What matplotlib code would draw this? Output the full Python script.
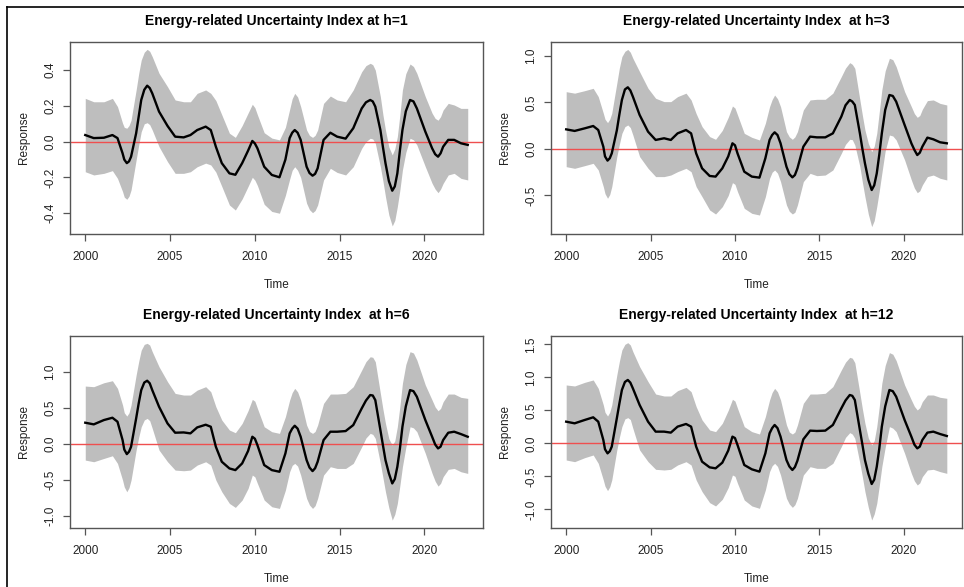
import matplotlib
matplotlib.use("Agg")
import matplotlib.pyplot as plt
from matplotlib.lines import Line2D

plt.rcParams['font.family'] = ['Liberation Sans', 'DejaVu Sans']

# time points (years)
t = [2000.0, 2000.5, 2001.1, 2001.6, 2001.9, 2002.2, 2002.3, 2002.45, 2002.58, 2002.7,
     2003.0, 2003.15, 2003.3, 2003.48, 2003.65, 2003.8, 2003.95, 2004.35, 2004.85, 2005.3,
     2005.8, 2006.2, 2006.6, 2007.1, 2007.4, 2007.7, 2008.05, 2008.5, 2008.85, 2009.25,
     2009.6, 2009.85, 2010.0, 2010.15, 2010.55, 2011.0, 2011.45, 2011.8, 2012.05, 2012.2,
     2012.35, 2012.52, 2012.7, 2013.05, 2013.22, 2013.4, 2013.55, 2013.7, 2014.05, 2014.45,
     2014.85, 2015.35, 2015.8, 2016.3, 2016.55, 2016.8, 2016.95, 2017.1, 2017.4, 2017.55,
     2017.7, 2017.9, 2018.1, 2018.25, 2018.4, 2018.55, 2018.7, 2018.9, 2019.15, 2019.35,
     2019.55, 2020.05, 2020.45, 2020.63, 2020.8, 2020.95, 2021.1, 2021.4, 2021.75, 2022.15,
     2022.55]

# h=1
resp1 = [0.037, 0.02, 0.022, 0.037, 0.02, -0.065, -0.1, -0.12, -0.11, -0.084,
         0.047, 0.14, 0.233, 0.29, 0.313, 0.3, 0.27, 0.168, 0.088, 0.028,
         0.024, 0.037, 0.065, 0.084, 0.065, -0.028, -0.12, -0.177, -0.185, -0.12,
         -0.05, 0.004, -0.01, -0.037, -0.14, -0.186, -0.199, -0.1, 0.02, 0.05,
         0.065, 0.05, 0.01, -0.14, -0.175, -0.19, -0.18, -0.149, 0.01, 0.05,
         0.028, 0.017, 0.075, 0.186, 0.22, 0.233, 0.225, 0.196, 0.065, -0.03,
         -0.12, -0.22, -0.274, -0.25, -0.177, -0.05, 0.065, 0.17, 0.233, 0.225,
         0.186, 0.056, -0.037, -0.07, -0.084, -0.065, -0.028, 0.01, 0.01, -0.009,
         -0.018]
up1 = [0.242, 0.223, 0.223, 0.242, 0.196, 0.103, 0.08, 0.075, 0.09, 0.12,
       0.289, 0.38, 0.456, 0.5, 0.516, 0.505, 0.475, 0.382, 0.307, 0.233,
       0.223, 0.223, 0.27, 0.289, 0.27, 0.23, 0.15, 0.047, 0.024, 0.09,
       0.16, 0.209, 0.19, 0.15, 0.05, 0.02, 0.01, 0.08, 0.18, 0.24,
       0.27, 0.25, 0.196, 0.065, 0.035, 0.024, 0.035, 0.065, 0.214, 0.255,
       0.233, 0.223, 0.289, 0.391, 0.425, 0.438, 0.43, 0.4, 0.251, 0.15,
       0.065, -0.03, -0.074, -0.04, 0.028, 0.15, 0.289, 0.38, 0.434, 0.42,
       0.382, 0.251, 0.159, 0.13, 0.12, 0.14, 0.177, 0.214, 0.205, 0.186,
       0.186]
lo1 = [-0.168, -0.186, -0.177, -0.162, -0.205, -0.279, -0.31, -0.322, -0.305, -0.27,
       -0.102, -0.02, 0.056, 0.1, 0.106, 0.095, 0.065, -0.028, -0.112, -0.177,
       -0.177, -0.168, -0.14, -0.12, -0.13, -0.17, -0.25, -0.354, -0.382, -0.32,
       -0.25, -0.199, -0.215, -0.245, -0.35, -0.39, -0.4, -0.3, -0.21, -0.16,
       -0.14, -0.16, -0.2, -0.344, -0.38, -0.397, -0.385, -0.354, -0.214, -0.149,
       -0.172, -0.186, -0.14, -0.037, 0.0, 0.019, 0.015, -0.009, -0.14, -0.22,
       -0.307, -0.41, -0.471, -0.44, -0.363, -0.27, -0.158, -0.06, 0.019, 0.01,
       -0.018, -0.14, -0.233, -0.265, -0.285, -0.265, -0.233, -0.186, -0.177, -0.205,
       -0.214]

# h=3
resp3 = [0.211, 0.194, 0.222, 0.247, 0.204, 0.025, -0.08, -0.125, -0.1, -0.047,
         0.2, 0.37, 0.527, 0.64, 0.663, 0.63, 0.563, 0.366, 0.186, 0.097,
         0.115, 0.097, 0.168, 0.204, 0.168, -0.047, -0.208, -0.29, -0.297, -0.208,
         -0.08, 0.061, 0.04, -0.047, -0.244, -0.297, -0.308, -0.1, 0.097, 0.15,
         0.179, 0.15, 0.061, -0.19, -0.27, -0.305, -0.28, -0.208, 0.025, 0.133,
         0.125, 0.125, 0.168, 0.348, 0.47, 0.527, 0.51, 0.473, 0.168, 0.0,
         -0.154, -0.33, -0.441, -0.39, -0.262, -0.06, 0.168, 0.42, 0.58, 0.57,
         0.509, 0.258, 0.061, -0.01, -0.065, -0.04, 0.025, 0.122, 0.104, 0.072,
         0.061]
up3 = [0.616, 0.6, 0.627, 0.652, 0.563, 0.384, 0.32, 0.283, 0.32, 0.384,
       0.706, 0.87, 0.993, 1.05, 1.07, 1.04, 0.975, 0.83, 0.652, 0.545,
       0.509, 0.509, 0.563, 0.6, 0.527, 0.38, 0.24, 0.133, 0.104, 0.2,
       0.34, 0.462, 0.44, 0.366, 0.168, 0.125, 0.097, 0.276, 0.455, 0.53,
       0.58, 0.54, 0.455, 0.186, 0.13, 0.104, 0.13, 0.186, 0.419, 0.527,
       0.534, 0.534, 0.6, 0.778, 0.87, 0.928, 0.91, 0.867, 0.527, 0.36,
       0.204, 0.06, -0.029, 0.03, 0.168, 0.4, 0.634, 0.84, 0.975, 0.96,
       0.885, 0.616, 0.455, 0.38, 0.34, 0.36, 0.426, 0.52, 0.527, 0.49,
       0.473]
lo3 = [-0.19, -0.208, -0.179, -0.154, -0.226, -0.405, -0.48, -0.53, -0.49, -0.405,
       -0.082, 0.05, 0.168, 0.24, 0.258, 0.23, 0.15, -0.082, -0.208, -0.297,
       -0.297, -0.28, -0.244, -0.208, -0.244, -0.405, -0.513, -0.656, -0.699, -0.62,
       -0.5, -0.362, -0.38, -0.459, -0.638, -0.692, -0.71, -0.513, -0.315, -0.25,
       -0.226, -0.26, -0.351, -0.602, -0.67, -0.699, -0.68, -0.602, -0.351, -0.262,
       -0.287, -0.28, -0.226, -0.047, 0.05, 0.104, 0.1, 0.043, -0.19, -0.36,
       -0.513, -0.7, -0.835, -0.77, -0.62, -0.45, -0.262, -0.02, 0.15, 0.14,
       0.097, -0.118, -0.333, -0.42, -0.47, -0.45, -0.387, -0.297, -0.28, -0.315,
       -0.333]

# h=6
resp6 = [0.292, 0.269, 0.329, 0.361, 0.306, 0.051, -0.08, -0.144, -0.11, -0.042,
         0.352, 0.56, 0.745, 0.85, 0.875, 0.84, 0.745, 0.514, 0.282, 0.153,
         0.157, 0.144, 0.227, 0.264, 0.236, -0.042, -0.25, -0.343, -0.366, -0.273,
         -0.1, 0.097, 0.07, -0.019, -0.296, -0.366, -0.389, -0.134, 0.144, 0.21,
         0.25, 0.21, 0.097, -0.227, -0.33, -0.38, -0.34, -0.25, 0.051, 0.167,
         0.167, 0.176, 0.259, 0.491, 0.6, 0.676, 0.67, 0.606, 0.19, -0.02,
         -0.227, -0.41, -0.551, -0.49, -0.319, -0.07, 0.236, 0.52, 0.745, 0.73,
         0.653, 0.329, 0.097, -0.01, -0.065, -0.04, 0.051, 0.153, 0.167, 0.134,
         0.097]
up6 = [0.801, 0.792, 0.847, 0.875, 0.769, 0.537, 0.43, 0.384, 0.43, 0.537,
       0.954, 1.14, 1.3, 1.38, 1.394, 1.37, 1.278, 1.069, 0.861, 0.699,
       0.676, 0.676, 0.745, 0.792, 0.722, 0.514, 0.329, 0.19, 0.153, 0.282,
       0.46, 0.616, 0.59, 0.491, 0.236, 0.167, 0.144, 0.375, 0.606, 0.71,
       0.769, 0.72, 0.606, 0.259, 0.17, 0.144, 0.17, 0.259, 0.56, 0.69,
       0.69, 0.699, 0.792, 1.023, 1.14, 1.208, 1.2, 1.139, 0.699, 0.48,
       0.282, 0.07, -0.019, 0.04, 0.236, 0.52, 0.838, 1.1, 1.278, 1.26,
       1.162, 0.815, 0.606, 0.51, 0.458, 0.49, 0.583, 0.69, 0.69, 0.644,
       0.63]
lo6 = [-0.227, -0.25, -0.204, -0.167, -0.273, -0.505, -0.6, -0.667, -0.61, -0.505,
       -0.088, 0.09, 0.236, 0.33, 0.352, 0.32, 0.213, -0.088, -0.25, -0.366,
       -0.375, -0.366, -0.296, -0.25, -0.296, -0.505, -0.667, -0.829, -0.884, -0.782,
       -0.62, -0.435, -0.46, -0.551, -0.782, -0.875, -0.898, -0.644, -0.389, -0.3,
       -0.273, -0.31, -0.435, -0.759, -0.85, -0.898, -0.86, -0.759, -0.435, -0.319,
       -0.343, -0.343, -0.273, -0.042, 0.08, 0.144, 0.13, 0.074, -0.273, -0.47,
       -0.667, -0.89, -1.06, -0.98, -0.829, -0.58, -0.319, -0.05, 0.236, 0.22,
       0.167, -0.134, -0.412, -0.52, -0.588, -0.55, -0.458, -0.356, -0.343, -0.389,
       -0.412]

# h=12
resp12 = [0.328, 0.303, 0.354, 0.394, 0.328, 0.051, -0.09, -0.152, -0.12, -0.05,
          0.379, 0.6, 0.808, 0.93, 0.96, 0.92, 0.833, 0.581, 0.328, 0.177,
          0.177, 0.162, 0.253, 0.293, 0.253, -0.05, -0.278, -0.364, -0.379, -0.293,
          -0.11, 0.101, 0.08, -0.025, -0.328, -0.394, -0.429, -0.152, 0.152, 0.23,
          0.278, 0.23, 0.101, -0.253, -0.35, -0.404, -0.36, -0.263, 0.061, 0.192,
          0.187, 0.192, 0.278, 0.53, 0.65, 0.732, 0.72, 0.657, 0.202, -0.02,
          -0.253, -0.46, -0.616, -0.55, -0.354, -0.08, 0.253, 0.56, 0.808, 0.79,
          0.707, 0.354, 0.101, -0.02, -0.076, -0.05, 0.05, 0.162, 0.177, 0.141,
          0.111]
up12 = [0.884, 0.869, 0.924, 0.96, 0.833, 0.581, 0.47, 0.414, 0.47, 0.581,
        1.035, 1.24, 1.414, 1.5, 1.525, 1.49, 1.389, 1.162, 0.934, 0.747,
        0.717, 0.717, 0.798, 0.848, 0.783, 0.556, 0.354, 0.202, 0.177, 0.303,
        0.5, 0.667, 0.64, 0.53, 0.253, 0.177, 0.141, 0.404, 0.657, 0.77,
        0.833, 0.78, 0.657, 0.278, 0.17, 0.141, 0.17, 0.278, 0.606, 0.747,
        0.747, 0.758, 0.859, 1.111, 1.23, 1.303, 1.29, 1.222, 0.758, 0.52,
        0.303, 0.08, -0.025, 0.04, 0.253, 0.56, 0.909, 1.18, 1.374, 1.35,
        1.253, 0.884, 0.657, 0.56, 0.505, 0.54, 0.631, 0.732, 0.732, 0.697,
        0.682]
lo12 = [-0.253, -0.278, -0.217, -0.177, -0.303, -0.556, -0.65, -0.717, -0.66, -0.556,
        -0.101, 0.09, 0.253, 0.37, 0.389, 0.36, 0.227, -0.101, -0.278, -0.394,
        -0.404, -0.394, -0.328, -0.278, -0.328, -0.556, -0.732, -0.899, -0.949, -0.848,
        -0.67, -0.48, -0.5, -0.606, -0.859, -0.949, -0.985, -0.707, -0.429, -0.34,
        -0.303, -0.35, -0.48, -0.833, -0.92, -0.97, -0.93, -0.833, -0.48, -0.354,
        -0.379, -0.379, -0.303, -0.05, 0.09, 0.162, 0.14, 0.076, -0.303, -0.51,
        -0.732, -0.97, -1.162, -1.07, -0.909, -0.64, -0.354, -0.06, 0.253, 0.23,
        0.177, -0.152, -0.455, -0.57, -0.631, -0.6, -0.505, -0.404, -0.394, -0.429,
        -0.455]

titles = ["Energy-related Uncertainty Index at h=1",
          "Energy-related Uncertainty Index  at h=3",
          "Energy-related Uncertainty Index  at h=6",
          "Energy-related Uncertainty Index  at h=12"]
resps = [resp1, resp3, resp6, resp12]
ups = [up1, up3, up6, up12]
los = [lo1, lo3, lo6, lo12]
yticks = [[-0.4, -0.2, 0.0, 0.2, 0.4],
          [-0.5, 0.0, 0.5, 1.0],
          [-1.0, -0.5, 0.0, 0.5, 1.0],
          [-1.0, -0.5, 0.0, 0.5, 1.0, 1.5]]
ylims = [(-0.516, 0.557), (-0.914, 1.15), (-1.17, 1.496), (-1.283, 1.626)]

W, H = 964, 587
fig = plt.figure(figsize=(W / 100, H / 100), dpi=100)
fig.patch.set_facecolor('white')

# axes boxes in pixels: left, top, right, bottom
boxes = [(70, 42, 483, 234), (551, 42, 962, 234),
         (70, 336, 483, 528), (551, 336, 962, 528)]

edge = '#555555'
for i in range(4):
    l, tp, r, b = boxes[i]
    ax = fig.add_axes([l / W, 1 - b / H, (r - l) / W, (b - tp) / H])
    ax.fill_between(t, los[i], ups[i], color='#bebebe', lw=0, zorder=1)
    ax.axhline(0, color='#ef4f4f', lw=1.0, zorder=2)
    ax.plot(t, resps[i], color='black', lw=1.7, zorder=3, solid_joinstyle='round')
    ax.set_xlim(1999.1, 2023.45)
    ax.set_ylim(*ylims[i])
    ax.set_xticks([2000, 2005, 2010, 2015, 2020])
    ax.set_yticks(yticks[i])
    ax.set_yticklabels(['%.1f' % v for v in yticks[i]], rotation=90, va='center')
    ax.tick_params(axis='both', direction='out', length=5, width=0.9, color=edge,
                   labelsize=8.5, labelcolor='#222222')
    ax.tick_params(axis='x', pad=7)
    ax.tick_params(axis='y', pad=5)
    for s in ax.spines.values():
        s.set_color(edge)
        s.set_linewidth(1.0)
    ax.set_title(titles[i], fontsize=10, fontweight='bold', pad=12)
    ax.set_xlabel('Time', fontsize=8.5, labelpad=12, color='#222222')
    ax.set_ylabel('Response', fontsize=8.5, labelpad=10.5, color='#222222')

# frame lines of the cropped figure (top and left)
fig.add_artist(Line2D([7 / W, 1], [1 - 7 / H, 1 - 7 / H], color='black', lw=1.2))
fig.add_artist(Line2D([7 / W, 7 / W], [0, 1 - 7 / H], color='black', lw=1.2))

fig.savefig('out.png', dpi=100)
